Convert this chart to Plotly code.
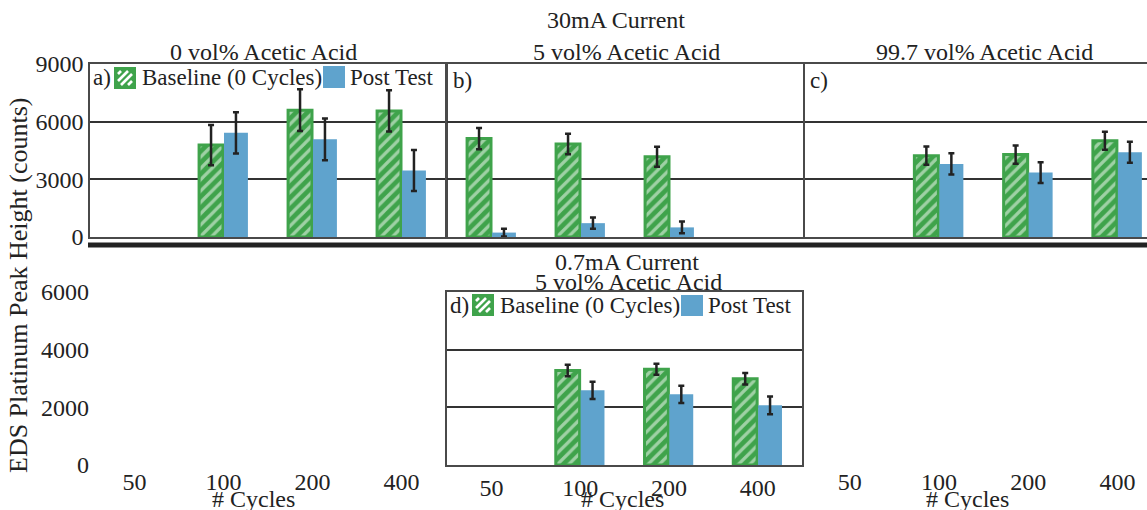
import plotly.graph_objects as go

# ---------------- data ----------------
cycles = ["50", "100", "200", "400"]

# (a) 30 mA, 0 vol% acetic acid
a_cycles = ["100", "200", "400"]
a_base = [4780, 6600, 6560]
a_base_err = [1050, 1080, 1070]
a_post = [5420, 5080, 3460]
a_post_err = [1070, 1090, 1070]

# (b) 30 mA, 5 vol% acetic acid
b_cycles = ["50", "100", "200"]
b_base = [5120, 4840, 4170]
b_base_err = [550, 530, 520]
b_post = [230, 720, 500]
b_post_err = [200, 290, 300]

# (c) 30 mA, 99.7 vol% acetic acid
c_cycles = ["100", "200", "400"]
c_base = [4230, 4290, 5010]
c_base_err = [475, 475, 470]
c_post = [3800, 3350, 4410]
c_post_err = [555, 540, 545]

# (d) 0.7 mA, 5 vol% acetic acid
d_cycles = ["100", "200", "400"]
d_base = [3280, 3320, 2990]
d_base_err = [200, 190, 200]
d_post = [2590, 2450, 2070]
d_post_err = [300, 300, 310]

top_ticks = [0, 3000, 6000, 9000]
bottom_ticks = [0, 2000, 4000, 6000]

# ---------------- style ----------------
W, H = 1147, 510
GREEN = "#3fa34b"
BLUE = "#5fa3cd"
TXT = "#222222"
FRAME = "#4a4a4a"
FONT = "Liberation Serif"


def px(x):
    return x / W


def py(y):
    return 1 - y / H


fig = go.Figure()


def add_pair(xs, base, base_err, post, post_err, xa, ya):
    fig.add_trace(go.Bar(
        x=xs, y=base, name="Baseline (0 Cycles)", xaxis=xa, yaxis=ya,
        marker=dict(color=GREEN, line=dict(color=GREEN, width=3),
                    pattern=dict(shape="/", fgcolor="white", bgcolor=GREEN,
                                 size=8, solidity=0.4)),
        error_y=dict(type="data", array=base_err, color=TXT, thickness=2.5, width=3),
        showlegend=False,
    ))
    fig.add_trace(go.Bar(
        x=xs, y=post, name="Post Test", xaxis=xa, yaxis=ya,
        marker=dict(color=BLUE, line=dict(width=0)),
        error_y=dict(type="data", array=post_err, color=TXT, thickness=2.5, width=3),
        showlegend=False,
    ))


add_pair(a_cycles, a_base, a_base_err, a_post, a_post_err, "x", "y")
add_pair(b_cycles, b_base, b_base_err, b_post, b_post_err, "x2", "y2")
add_pair(c_cycles, c_base, c_base_err, c_post, c_post_err, "x3", "y3")
add_pair(d_cycles, d_base, d_base_err, d_post, d_post_err, "x5", "y5")
# empty traces to register the bare bottom axes
fig.add_trace(go.Bar(x=cycles, y=[None] * 4, xaxis="x4", yaxis="y4", showlegend=False))
fig.add_trace(go.Bar(x=cycles, y=[None] * 4, xaxis="x6", yaxis="y6", showlegend=False))

full_rng = [-0.5, 3.5]
clip_rng = [-0.5, -0.5 + (1147 - 805) / 357 * 4]

top_dom = [py(237), py(64)]
bot_dom = [py(465), py(292)]

tickfont = dict(family=FONT, size=24, color=TXT)


def xax(dom, rng, anchor, labels, frame, mirror=True):
    return dict(domain=[px(dom[0]), px(dom[1])], anchor=anchor, type="category",
                categoryorder="array", categoryarray=cycles, range=rng,
                showgrid=False, zeroline=False, ticks="", showticklabels=labels,
                tickfont=tickfont, showline=frame, mirror=mirror if frame else False,
                linecolor=FRAME, linewidth=1.5, fixedrange=True, automargin=False)


def yax(dom, rng, ticks, anchor, labels, frame, grid, mirror=True):
    return dict(domain=dom, anchor=anchor, range=rng, tickvals=ticks,
                showgrid=grid, gridcolor="#333333", gridwidth=1.5, zeroline=False,
                ticks="", showticklabels=labels, tickfont=tickfont,
                showline=frame, mirror=mirror if frame else False,
                linecolor=FRAME, linewidth=1.5, fixedrange=True, automargin=False)


fig.update_layout(
    width=W, height=H,
    margin=dict(l=0, r=0, t=0, b=0, autoexpand=False),
    paper_bgcolor="white", plot_bgcolor="white",
    barmode="group", bargap=0.44, bargroupgap=0.04,
    font=dict(family=FONT, size=24, color=TXT),
    showlegend=False,
    xaxis=xax((90, 446), full_rng, "y", False, True),
    yaxis=yax(top_dom, [0, 9000], top_ticks, "x", True, True, True),
    xaxis2=xax((447, 803), full_rng, "y2", False, True),
    yaxis2=yax(top_dom, [0, 9000], top_ticks, "x2", False, True, True),
    xaxis3=xax((805, 1147), clip_rng, "y3", False, True),
    yaxis3=yax(top_dom, [0, 9000], top_ticks, "x3", False, True, True, mirror=False),
    xaxis4=xax((90, 446), full_rng, "y4", True, False),
    yaxis4=yax(bot_dom, [0, 6000], bottom_ticks, "x4", True, False, False),
    xaxis5=xax((447, 802), full_rng, "y5", True, True),
    yaxis5=yax(bot_dom, [0, 6000], bottom_ticks, "x5", False, True, True),
    xaxis6=xax((805, 1147), clip_rng, "y6", True, False),
    yaxis6=yax(bot_dom, [0, 6000], bottom_ticks, "x6", False, False, False),
)

shapes = []
annotations = []


def text(t, x, y, anchor="center", size=24, angle=0):
    annotations.append(dict(text=t, x=px(x), y=py(y), xref="paper", yref="paper",
                            xanchor=anchor, yanchor="middle", showarrow=False,
                            textangle=angle,
                            font=dict(family=FONT, size=size, color=TXT)))


def hatch_swatch(x0, y0, x1, y1, period=7, lw=2.6):
    shapes.append(dict(type="rect", xref="paper", yref="paper",
                       x0=px(x0), x1=px(x1), y0=py(y1), y1=py(y0),
                       fillcolor=GREEN, line=dict(color=GREEN, width=2)))
    ins = 3
    a, b, c, d = x0 + ins, x1 - ins, y0 + ins, y1 - ins
    k = a + c + 3
    while k < b + d:
        xs = max(a, k - d)
        xe = min(b, k - c)
        if xe > xs:
            shapes.append(dict(type="line", xref="paper", yref="paper",
                               x0=px(xs), y0=py(k - xs), x1=px(xe), y1=py(k - xe),
                               line=dict(color="white", width=lw)))
        k += period


def solid_swatch(x0, y0, x1, y1):
    shapes.append(dict(type="rect", xref="paper", yref="paper",
                       x0=px(x0), x1=px(x1), y0=py(y1), y1=py(y0),
                       fillcolor=BLUE, line=dict(width=0)))


# thick separator
shapes.append(dict(type="line", xref="paper", yref="paper",
                   x0=px(88), x1=1, y0=py(245), y1=py(245),
                   line=dict(color="#222222", width=5)))

# legends
hatch_swatch(115, 68, 135, 88)
solid_swatch(323, 66, 345, 88)
hatch_swatch(473, 295, 493, 315)
solid_swatch(681, 295, 703, 316)

text("a)", 91, 77, "left", 23)
text("Baseline (0 Cycles)", 140, 77, "left", 23)
text("Post Test", 348, 77, "left", 23)
text("b)", 451, 80, "left", 23)
text("c)", 808, 80, "left", 23)
text("d)", 448, 305, "left", 23)
text("Baseline (0 Cycles)", 498, 305, "left", 23)
text("Post Test", 706, 305, "left", 23)

# titles
text("30mA Current", 616, 20)
text("0 vol% Acetic Acid", 263, 52)
text("5 vol% Acetic Acid", 626, 52)
text("99.7 vol% Acetic Acid", 984, 52)
text("0.7mA Current", 627, 262)
text("5 vol% Acetic Acid", 628, 282)

# x titles
text("# Cycles", 253, 499)
text("# Cycles", 622, 499)
text("# Cycles", 967, 499)

# y title
text("EDS Platinum Peak Height (counts)", 18, 285, size=26, angle=-90)

fig.update_layout(shapes=shapes, annotations=annotations)

fig.write_html(
    "out.html",
    config={"displayModeBar": False},
    post_script="document.body.style.margin='0px';document.body.style.overflow='hidden';",
)
